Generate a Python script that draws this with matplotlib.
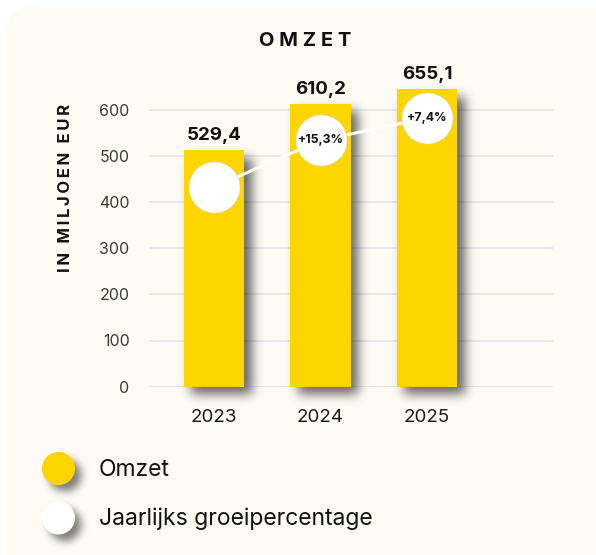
import numpy as np
import matplotlib
matplotlib.use("Agg")
import matplotlib.pyplot as plt
from matplotlib.patches import FancyBboxPatch, Circle

# ---------------- data ----------------
years = ["2023", "2024", "2025"]
omzet_heights = [512, 612, 644]          # bar heights as drawn
omzet_labels = ["529,4", "610,2", "655,1"]
growth_pos = [432, 533, 582]             # y-position of growth bubbles
growth_labels = ["", "+15,3%", "+7,4%"]
yticks = [0, 100, 200, 300, 400, 500, 600]
title = "O M Z E T"
ylabel = "\u2009".join("IN") + "\u2009\u2009 " + "\u2009".join("MILJOEN") + "\u2009\u2009 " + "\u2009".join("EUR")
legend_labels = ["Omzet", "Jaarlijks groeipercentage"]

# ---------------- style ----------------
FONT = ["Inter", "DejaVu Sans"]
plt.rcParams["font.family"] = FONT
W, H = 596, 555
CARD = "#fdfbf4"
YELLOW = "#ffd500"
GRID = "#e6e6ec"

fig = plt.figure(figsize=(W / 100, H / 100), dpi=100)
fig.patch.set_facecolor("white")

# background axes in pixel coordinates
bg = fig.add_axes([0, 0, 1, 1], zorder=0)
bg.set_xlim(0, W)
bg.set_ylim(H, 0)
bg.axis("off")
card = FancyBboxPatch((5, 5), W + 40, H + 40,
                      boxstyle="round,pad=0,rounding_size=34",
                      facecolor=CARD, edgecolor="none")
bg.add_patch(card)


def blur(a, sigma):
    r = int(3 * sigma)
    k = np.exp(-0.5 * (np.arange(-r, r + 1) / sigma) ** 2)
    k /= k.sum()
    a = np.apply_along_axis(lambda m: np.convolve(m, k, mode="same"), 0, a)
    a = np.apply_along_axis(lambda m: np.convolve(m, k, mode="same"), 1, a)
    return a


# main axes
ax_l, ax_r = 149, 553
y0px, ytop_val = 386.7, 700
px_per_unit = (386.7 - 109.5) / 600
ytop_px = y0px - ytop_val * px_per_unit
ax = fig.add_axes([ax_l / W, 1 - y0px / H, (ax_r - ax_l) / W,
                   (y0px - ytop_px) / H], zorder=2)
ax.set_facecolor("none")
x = np.arange(len(years))
spacing = 106.5
xl = (ax_l - 214) / spacing
xr = (ax_r - 214) / spacing
ax.set_xlim(xl, xr)
ax.set_ylim(0, ytop_val)
bar_w = 0.57

ax.set_axisbelow(True)
ax.yaxis.grid(True, color=GRID, lw=1.3)
for s in ax.spines.values():
    s.set_visible(False)
ax.set_yticks(yticks)
ax.set_yticklabels([str(v) for v in yticks], fontsize=11.5, color="#3a3a3a")
ax.set_xticks(x)
ax.set_xticklabels(years, fontsize=13.5, color="#1a1a1a")
ax.tick_params(axis="y", length=0, pad=14)
ax.tick_params(axis="x", length=0, pad=16)

# bar shadows (image computed from bar extents in pixel space)
yy, xx = np.mgrid[0:H, 0:W]
mask = np.zeros((H, W))
off = 7
for xi, h in zip(x, omzet_heights):
    (px0, py0) = ax.transData.transform((xi - bar_w / 2, 0))
    (px1, py1) = ax.transData.transform((xi + bar_w / 2, h))
    r0, r1 = H - py1 + off, H - py0 + off
    c0, c1 = px0 + off, px1 + off
    mask[(yy >= r0) & (yy <= r1) & (xx >= c0) & (xx <= c1)] = 1
sh = blur(mask, 5.5) * 0.6
rgba = np.zeros((H, W, 4))
rgba[..., 3] = sh
inv = ax.transData.inverted()
ex0, ey_top = inv.transform((0, H))
ex1, ey_bot = inv.transform((W, 0))
ax.imshow(rgba, extent=(ex0, ex1, ey_bot, ey_top), origin="upper",
          aspect="auto", zorder=1, clip_on=False, interpolation="bilinear")
ax.set_xlim(xl, xr)
ax.set_ylim(0, ytop_val)

ax.bar(x, omzet_heights, width=bar_w, color=YELLOW, zorder=2)
for xi, h, lab in zip(x, omzet_heights, omzet_labels):
    ax.annotate(lab, (xi, h), xytext=(0, 10.5), textcoords="offset points",
                ha="center", va="center", fontsize=13.5, fontweight="bold",
                color="#111111", zorder=5)

ax.plot(x, growth_pos, color="white", lw=2.2, zorder=3, solid_capstyle="round")
ax.scatter(x, growth_pos, s=1350, color="white", edgecolor="#d8d8d8",
           linewidth=0.4, zorder=4)
for xi, g, lab in zip(x, growth_pos, growth_labels):
    if lab:
        ax.text(xi, g, lab, ha="center", va="center", fontsize=8.8,
                fontweight="bold", color="#111111", zorder=5)

# titles
fig.text(305 / W, 1 - 41 / H, title, ha="center", va="center",
         fontsize=14.5, fontweight="bold", color="#111111")
fig.text(66 / W, 1 - 188 / H, ylabel, ha="center", va="center",
         rotation=90, fontsize=12, fontweight="bold", color="#111111")

# legend with shadows
leg_cols = [YELLOW, "white"]
leg_y = [468.5, 518]
leg_x, leg_r = 58.5, 16.5
lmask = np.zeros((H, W))
for ly in leg_y:
    lmask[(xx - leg_x - 6) ** 2 + (yy - ly - 6) ** 2 <= leg_r ** 2] = 1
lsh = blur(lmask, 4.0) * 0.5
lrgba = np.zeros((H, W, 4))
lrgba[..., 3] = lsh
bg.imshow(lrgba, extent=(0, W, H, 0), origin="upper", aspect="auto",
          zorder=1, interpolation="bilinear")
bg.set_xlim(0, W)
bg.set_ylim(H, 0)
for c, ly, lab in zip(leg_cols, leg_y, legend_labels):
    bg.add_patch(Circle((leg_x, ly), leg_r, facecolor=c, edgecolor="none",
                        zorder=2))
    bg.text(99, ly + 1, lab, ha="left", va="center", fontsize=16.5,
            color="#111111", zorder=3)

fig.savefig("out.png", dpi=100)
